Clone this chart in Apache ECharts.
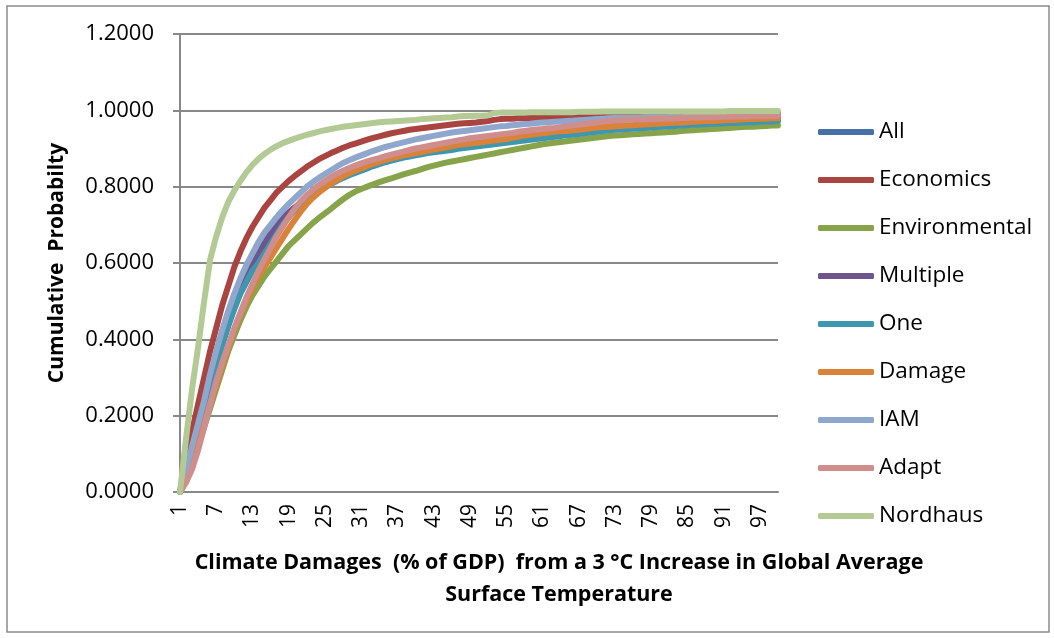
<!DOCTYPE html>
<html>
<head>
<meta charset="utf-8">
<script src="https://cdn.jsdelivr.net/npm/echarts@6/dist/echarts.min.js"></script>
<style>
html,body{margin:0;padding:0;background:#fff;}
#chart{width:1054px;height:638px;}
</style>
</head>
<body>
<div id="chart"></div>
<script>
var categories = [1,2,3,4,5,6,7,8,9,10,11,12,13,14,15,16,17,18,19,20,21,22,23,24,25,26,27,28,29,30,31,32,33,34,35,36,37,38,39,40,41,42,43,44,45,46,47,48,49,50,51,52,53,54,55,56,57,58,59,60,61,62,63,64,65,66,67,68,69,70,71,72,73,74,75,76,77,78,79,80,81,82,83,84,85,86,87,88,89,90,91,92,93,94,95,96,97,98,99,100];

var seriesNames = ['All','Economics','Environmental','Multiple','One','Damage','IAM','Adapt','Nordhaus'];

var allData = [0,0.045,0.095,0.155,0.215,0.275,0.335,0.39,0.44,0.487,
0.527,0.56,0.59,0.615,0.64,0.665,0.688,0.709,0.727,0.742,
0.755,0.768,0.779,0.790,0.800,0.809,0.818,0.826,0.833,0.840,
0.846,0.852,0.858,0.863,0.868,0.872,0.876,0.880,0.884,0.887,
0.890,0.893,0.896,0.898,0.901,0.903,0.906,0.908,0.910,0.912,
0.914,0.916,0.918,0.920,0.922,0.925,0.927,0.929,0.931,0.933,
0.935,0.937,0.939,0.941,0.943,0.945,0.947,0.949,0.951,0.953,
0.955,0.956,0.957,0.958,0.959,0.960,0.961,0.962,0.963,0.964,
0.965,0.966,0.967,0.967,0.968,0.969,0.969,0.970,0.971,0.971,
0.972,0.972,0.973,0.973,0.974,0.974,0.975,0.975,0.975,0.976];

var economicsData = [0,0.08,0.16,0.23,0.30,0.37,0.43,0.49,0.54,0.59,
0.63,0.665,0.695,0.72,0.745,0.765,0.785,0.80,0.815,0.828,
0.840,0.852,0.862,0.872,0.880,0.888,0.895,0.902,0.908,0.913,
0.918,0.923,0.928,0.932,0.936,0.940,0.943,0.946,0.949,0.951,
0.953,0.955,0.957,0.959,0.961,0.963,0.965,0.966,0.967,0.968,
0.970,0.972,0.975,0.977,0.978,0.978,0.979,0.979,0.980,0.980,
0.981,0.981,0.982,0.982,0.983,0.983,0.984,0.984,0.985,0.985,
0.986,0.986,0.986,0.986,0.986,0.987,0.987,0.988,0.988,0.988,
0.989,0.989,0.989,0.990,0.990,0.990,0.990,0.991,0.991,0.991,
0.991,0.992,0.992,0.992,0.992,0.992,0.993,0.993,0.993,0.993];

var environmentalData = [0,0.03,0.07,0.12,0.17,0.22,0.27,0.32,0.37,0.41,
0.45,0.485,0.515,0.54,0.565,0.585,0.605,0.625,0.645,0.66,
0.675,0.69,0.705,0.718,0.73,0.742,0.755,0.767,0.778,0.787,
0.794,0.80,0.806,0.812,0.817,0.822,0.827,0.832,0.837,0.841,
0.846,0.851,0.855,0.859,0.863,0.866,0.869,0.872,0.875,0.878,
0.881,0.884,0.887,0.890,0.893,0.896,0.899,0.902,0.905,0.908,
0.911,0.913,0.915,0.917,0.919,0.921,0.923,0.925,0.927,0.929,
0.931,0.933,0.934,0.935,0.936,0.937,0.938,0.939,0.940,0.941,
0.942,0.943,0.944,0.946,0.947,0.948,0.949,0.950,0.951,0.952,
0.953,0.954,0.955,0.956,0.957,0.957,0.958,0.959,0.960,0.960];

var multipleData = [0,0.05,0.10,0.16,0.22,0.28,0.34,0.40,0.45,0.495,
0.535,0.57,0.60,0.63,0.655,0.68,0.70,0.718,0.733,0.746,
0.758,0.770,0.781,0.792,0.802,0.812,0.821,0.829,0.837,0.844,
0.850,0.856,0.862,0.868,0.873,0.877,0.881,0.885,0.889,0.892,
0.895,0.898,0.901,0.904,0.907,0.910,0.913,0.916,0.918,0.920,
0.922,0.924,0.926,0.928,0.930,0.932,0.934,0.936,0.938,0.940,
0.942,0.944,0.946,0.948,0.950,0.952,0.954,0.956,0.958,0.960,
0.962,0.963,0.964,0.965,0.966,0.967,0.968,0.969,0.970,0.971,
0.972,0.972,0.973,0.973,0.974,0.974,0.975,0.975,0.976,0.976,
0.977,0.977,0.977,0.978,0.978,0.978,0.979,0.979,0.979,0.980];

var oneData = [0,0.04,0.09,0.15,0.21,0.27,0.33,0.385,0.435,0.48,
0.52,0.55,0.58,0.60,0.625,0.65,0.675,0.70,0.72,0.738,
0.752,0.765,0.777,0.788,0.798,0.807,0.815,0.823,0.830,0.836,
0.842,0.848,0.854,0.859,0.864,0.868,0.872,0.876,0.879,0.882,
0.885,0.888,0.890,0.892,0.894,0.896,0.899,0.901,0.903,0.905,
0.907,0.909,0.911,0.913,0.915,0.917,0.919,0.921,0.923,0.925,
0.927,0.929,0.931,0.933,0.935,0.936,0.938,0.940,0.942,0.944,
0.946,0.948,0.949,0.950,0.951,0.952,0.953,0.954,0.955,0.956,
0.957,0.958,0.959,0.960,0.961,0.962,0.963,0.964,0.965,0.965,
0.966,0.967,0.967,0.968,0.969,0.969,0.970,0.971,0.971,0.972];

var damageData = [0,0.03,0.08,0.13,0.18,0.23,0.28,0.33,0.38,0.425,
0.465,0.50,0.535,0.565,0.59,0.615,0.64,0.665,0.69,0.713,
0.735,0.755,0.771,0.785,0.797,0.808,0.818,0.827,0.835,0.842,
0.848,0.854,0.860,0.865,0.870,0.874,0.878,0.882,0.885,0.888,
0.891,0.894,0.897,0.900,0.903,0.906,0.909,0.911,0.913,0.915,
0.917,0.919,0.921,0.923,0.925,0.928,0.931,0.934,0.936,0.938,
0.940,0.942,0.944,0.945,0.946,0.948,0.949,0.951,0.953,0.955,
0.956,0.957,0.958,0.959,0.960,0.961,0.962,0.963,0.964,0.965,
0.966,0.967,0.968,0.968,0.969,0.970,0.971,0.972,0.972,0.973,
0.974,0.975,0.975,0.976,0.977,0.977,0.978,0.978,0.979,0.979];

var iamData = [0,0.06,0.12,0.18,0.24,0.31,0.37,0.425,0.475,0.52,
0.56,0.595,0.625,0.655,0.68,0.70,0.72,0.738,0.755,0.77,
0.785,0.80,0.812,0.823,0.833,0.843,0.853,0.862,0.869,0.876,
0.882,0.888,0.894,0.899,0.904,0.908,0.912,0.916,0.920,0.924,
0.927,0.930,0.933,0.936,0.939,0.942,0.944,0.946,0.948,0.950,
0.952,0.954,0.956,0.958,0.959,0.961,0.962,0.964,0.965,0.967,
0.968,0.969,0.970,0.971,0.972,0.973,0.974,0.975,0.976,0.977,
0.978,0.979,0.980,0.980,0.980,0.980,0.980,0.981,0.981,0.981,
0.981,0.982,0.982,0.982,0.983,0.983,0.983,0.984,0.984,0.984,
0.985,0.985,0.985,0.986,0.986,0.986,0.987,0.987,0.987,0.988];

var adaptData = [0,0.025,0.06,0.11,0.17,0.23,0.29,0.34,0.385,0.43,
0.47,0.51,0.545,0.58,0.61,0.64,0.67,0.695,0.72,0.742,
0.762,0.778,0.792,0.804,0.815,0.825,0.834,0.842,0.849,0.855,
0.861,0.866,0.871,0.875,0.880,0.884,0.888,0.892,0.896,0.900,
0.903,0.906,0.909,0.912,0.915,0.918,0.921,0.924,0.927,0.929,
0.931,0.933,0.935,0.937,0.939,0.941,0.944,0.946,0.948,0.950,
0.951,0.953,0.954,0.956,0.958,0.960,0.962,0.964,0.966,0.968,
0.970,0.972,0.973,0.974,0.975,0.975,0.976,0.976,0.977,0.977,
0.978,0.978,0.979,0.980,0.980,0.981,0.981,0.982,0.982,0.983,
0.983,0.983,0.984,0.984,0.984,0.985,0.985,0.985,0.986,0.986];

var nordhausData = [0,0.14,0.27,0.38,0.50,0.61,0.67,0.72,0.76,0.79,
0.815,0.838,0.857,0.873,0.886,0.897,0.906,0.914,0.920,0.926,
0.931,0.936,0.940,0.944,0.948,0.951,0.954,0.957,0.959,0.961,
0.963,0.965,0.967,0.969,0.970,0.971,0.972,0.973,0.974,0.975,
0.977,0.978,0.979,0.980,0.981,0.982,0.984,0.985,0.985,0.986,
0.986,0.987,0.993,0.994,0.994,0.994,0.994,0.994,0.995,0.995,
0.995,0.995,0.995,0.995,0.995,0.995,0.996,0.996,0.996,0.996,
0.997,0.997,0.997,0.997,0.997,0.997,0.997,0.997,0.997,0.997,
0.997,0.997,0.997,0.997,0.997,0.997,0.997,0.997,0.997,0.997,
0.997,0.998,0.998,0.998,0.998,0.998,0.998,0.998,0.998,0.998];

var colors = ['#4570A8','#A94441','#87A44B','#6E558E','#3E97AF','#DA8238','#8FA7CD','#CF8D8C','#B3CA94'];
var seriesData = [allData, economicsData, environmentalData, multipleData, oneData, damageData, iamData, adaptData, nordhausData];

var FONT = '"Open Sans", "Noto Sans", sans-serif';
var chart = echarts.init(document.getElementById('chart'), null, {renderer: 'canvas'});

var series = seriesNames.map(function (name, k) {
  return {
    name: name,
    type: 'line',
    data: seriesData[k],
    symbol: 'none',
    showSymbol: false,
    smooth: false,
    lineStyle: { width: 6, color: colors[k], cap: 'round', join: 'round' },
    itemStyle: { color: colors[k] },
    emphasis: { disabled: true }
  };
});

chart.setOption({
  animation: false,
  color: colors,
  graphic: [{
    type: 'rect',
    shape: { x: 7, y: 6, width: 1042, height: 626 },
    style: { fill: 'none', stroke: '#8a8a8a', lineWidth: 1.5 },
    z: -10
  }],
  title: {
    text: 'Climate Damages  (% of GDP)  from a 3 \u00B0C Increase in Global Average\nSurface Temperature',
    left: 559,
    top: 547,
    textAlign: 'center',
    padding: 0,
    textStyle: { fontFamily: FONT, fontSize: 21.5, fontWeight: 'bold', lineHeight: 32, color: '#000' }
  },
  grid: { left: 180, right: 276, top: 34, bottom: 146, containLabel: false },
  legend: {
    orient: 'vertical',
    left: 818,
    top: 120,
    padding: 0,
    itemWidth: 56,
    itemHeight: 6,
    itemGap: 24,
    icon: 'roundRect',
    data: seriesNames,
    textStyle: { fontFamily: FONT, fontSize: 22.5, lineHeight: 24, color: '#000' },
    selectedMode: false
  },
  xAxis: {
    type: 'category',
    data: categories,
    boundaryGap: false,
    axisLine: { lineStyle: { color: '#888888', width: 2 } },
    axisTick: { show: false },
    axisLabel: {
      interval: 5,
      rotate: 90,
      margin: 12,
      fontFamily: FONT,
      fontSize: 21,
      color: '#000'
    },
    splitLine: { show: false }
  },
  yAxis: {
    type: 'value',
    min: 0,
    max: 1.2,
    interval: 0.2,
    name: 'Cumulative  Probabilty',
    nameLocation: 'middle',
    nameGap: 112,
    nameTextStyle: { fontFamily: FONT, fontSize: 21, fontWeight: 'bold', color: '#000' },
    axisLine: { show: true, lineStyle: { color: '#888888', width: 2 } },
    axisTick: { show: true, length: 7, lineStyle: { color: '#888888', width: 2 } },
    axisLabel: {
      margin: 26,
      fontFamily: FONT,
      fontSize: 22,
      color: '#000',
      formatter: function (v) { return v.toFixed(4); }
    },
    splitLine: { lineStyle: { color: '#888888', width: 2 } }
  },
  series: series
});
</script>
</body>
</html>
